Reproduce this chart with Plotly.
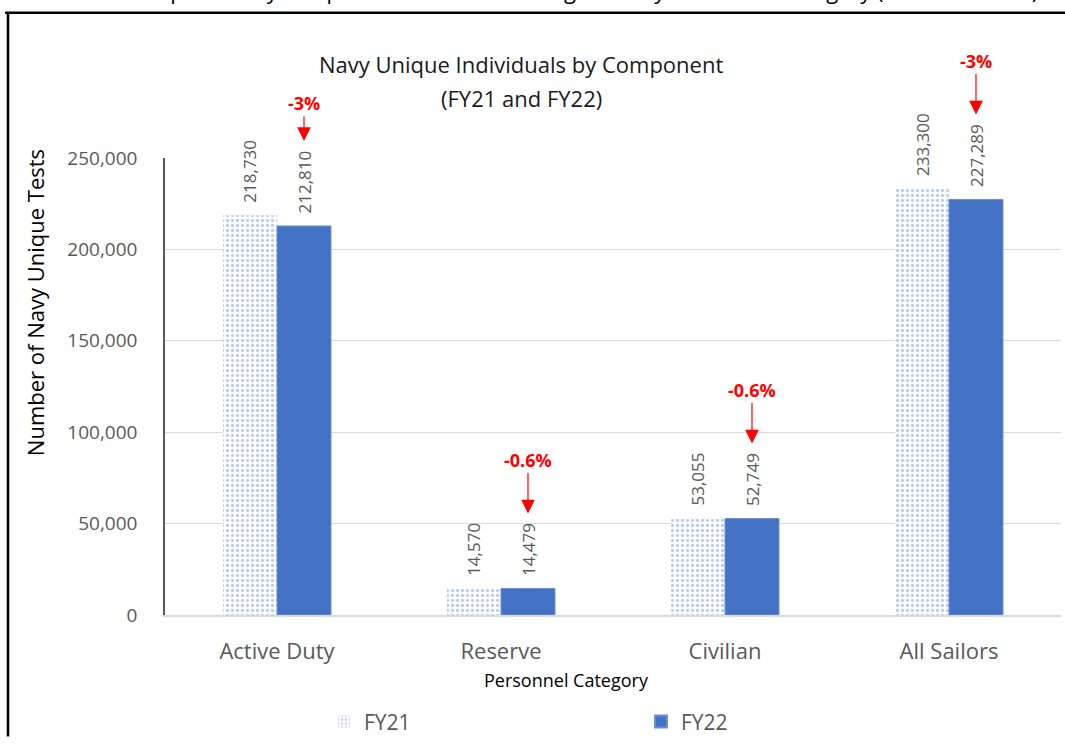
import plotly.graph_objects as go

categories = ["Active Duty", "Reserve", "Civilian", "All Sailors"]
fy21 = [218730, 14570, 53055, 233300]
fy22 = [212810, 14479, 52749, 227289]
pct_change = ["-3%", "-0.6%", "-0.6%", "-3%"]

W, H = 1065, 747
L, R, T, B = 165, 4, 158, 123
PW, PH = W - L - R, H - T - B

def px(x):
    return (x - L) / PW

def py(y):
    return (H - B - y) / PH

FONT = "Open Sans"
GREY = "#595959"

fig = go.Figure()
fig.add_trace(go.Bar(
    name="FY21", x=categories, y=fy21,
    marker=dict(color="white",
                pattern=dict(shape=".", fgcolor="#7C9CD8", bgcolor="white", size=5, solidity=0.35),
                line=dict(width=0)),
))
fig.add_trace(go.Bar(
    name="FY22", x=categories, y=fy22,
    marker=dict(color="#4472C4", line=dict(width=1, color="#6A8FD6")),
))

annotations = []
for vals, shift in ((fy21, -27), (fy22, 27)):
    for cat, val in zip(categories, vals):
        annotations.append(dict(
            x=cat, y=val, xref="x", yref="y", xshift=shift, yshift=10,
            text=f"{val:,}", showarrow=False, textangle=-90,
            xanchor="center", yanchor="bottom",
            font=dict(family=FONT, size=17, color=GREY),
        ))

arrow_len = {"Active Duty": 38}
for cat, val, pct in zip(categories, fy22, pct_change):
    lab = f"{val:,}"
    annotations.append(dict(
        x=cat, y=val, xref="x", yref="y", xshift=27, yshift=len(lab) * 10 + 15,
        text=f"<b>{pct}</b>", showarrow=True, ax=0, ay=-arrow_len.get(cat, 54),
        arrowhead=2, arrowsize=2.3, arrowwidth=1.2, arrowcolor="#FF0000",
        font=dict(family=FONT, size=18, color="#FF0000"),
    ))

def label(x, y, text, size, color="black", angle=0, xa="center", ya="middle"):
    return dict(x=px(x), y=py(y), xref="paper", yref="paper", showarrow=False,
                xanchor=xa, yanchor=ya, textangle=angle, text=text,
                font=dict(family=FONT, size=size, color=color))

annotations += [
    label(521, 62, "Navy Unique Individuals by Component", 22, "#1a1a1a"),
    label(521, 97, "(FY21 and FY22)", 22, "#1a1a1a"),
    label(35, 306, "Number of Navy Unique Tests", 22, angle=-90),
    label(566, 690, "Personnel Category", 18),
    label(1040, 4, "Graph 2. Navy Unique Individuals Receiving Tests by Personnel Category (FY21 and FY22)",
          22, xa="right", ya="bottom"),
]

shapes = [
    dict(type="line", xref="paper", yref="paper", x0=px(5), x1=px(1066), y0=py(10), y1=py(10),
         line=dict(color="black", width=2.5)),
    dict(type="line", xref="paper", yref="paper", x0=px(8), x1=px(8), y0=py(10), y1=py(748),
         line=dict(color="black", width=2.5)),
]

fig.update_layout(
    width=W, height=H, margin=dict(l=L, r=R, t=T, b=B),
    paper_bgcolor="white", plot_bgcolor="white",
    barmode="group", bargap=0.518, bargroupgap=0,
    font=dict(family=FONT, color=GREY),
    showlegend=True,
    legend=dict(orientation="h", x=px(324), y=py(733), xanchor="left", yanchor="middle",
                entrywidth=272, entrywidthmode="pixels",
                font=dict(family=FONT, size=21, color=GREY), itemsizing="constant"),
    annotations=annotations, shapes=shapes,
)
fig.update_xaxes(showline=True, linecolor="#d9d9d9", linewidth=1.5, ticks="",
                 tickfont=dict(family=FONT, size=22, color=GREY), showgrid=False,
                 ticklabelstandoff=16)
fig.update_yaxes(range=[0, 250000], dtick=50000, tickformat=",", showgrid=True, gridcolor="#d9d9d9",
                 gridwidth=1.2, showline=True, linecolor="#595959", linewidth=1.5, zeroline=False,
                 tickfont=dict(family=FONT, size=19, color=GREY), ticks="", ticklabelstandoff=22)

fig.write_html("out.html", config={"displayModeBar": False},
               post_script="document.body.style.margin='0px';document.body.style.overflow='hidden';")
